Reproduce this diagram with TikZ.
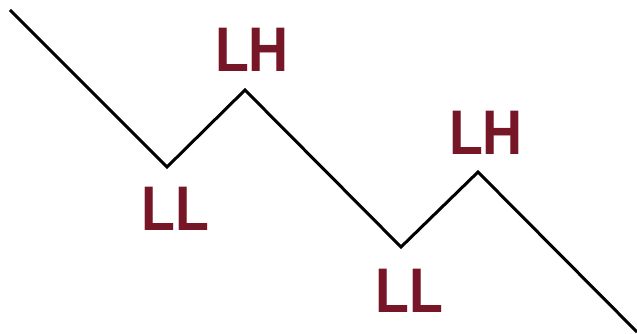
\documentclass[tikz,border=0pt]{standalone}
\usepackage{fontspec}
\newfontfamily\lblfont{Liberation Sans}[FakeStretch=0.88]
\definecolor{lowred}{RGB}{118,22,38}
\begin{document}
\begin{tikzpicture}[x=1pt,y=-1pt,
		trend/.style={line width=3pt,line join=miter,black},
		lbl/.style={anchor=base,inner sep=0pt,text=lowred,
			font=\lblfont\bfseries\fontsize{63}{63}\selectfont}]
		\useasboundingbox (0,0) rectangle (637,334);

		\coordinate (s)  at (10,10);
		\coordinate (a)  at (167,167);
		\coordinate (b)  at (245,90);
		\coordinate (c)  at (401,247);
		\coordinate (d)  at (478,172);
		\coordinate (e)  at (637,332);

		\node[lbl] (la) at (175,230) {LL};
		\node[lbl] (lb) at (252,72)  {LH};
		\node[lbl] (lc) at (409,312) {LL};
		\node[lbl] (ld) at (486,154) {LH};

		\draw[trend] (s) -- (a) -- (b) -- (c) -- (d) -- (e);
		\end{tikzpicture}
\end{document}
